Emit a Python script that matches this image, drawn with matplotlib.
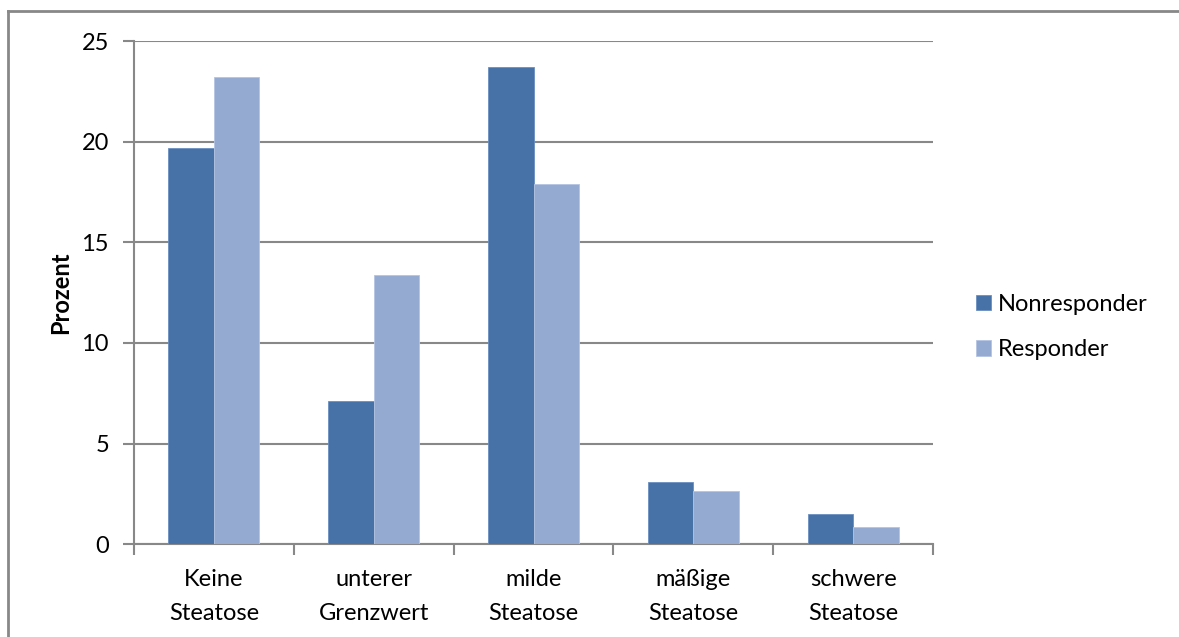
import matplotlib.pyplot as plt
import matplotlib.lines as mlines
import numpy as np

categories = ["Keine\nSteatose", "unterer\nGrenzwert", "milde\nSteatose",
              "mäßige\nSteatose", "schwere\nSteatose"]
nonresponder = [19.7, 7.1, 23.7, 3.1, 1.5]
responder = [23.2, 13.4, 17.9, 2.65, 0.85]
yticks = [0, 5, 10, 15, 20, 25]

dark = "#4672A8"
light = "#95AAD1"
grid_col = "#888888"
fs = 17

plt.rcParams['font.family'] = ['Lato', 'DejaVu Sans']

fig = plt.figure(figsize=(11.79, 6.37), dpi=100)
ax = fig.add_axes([134 / 1179, 1 - 544.3 / 637, (933 - 134) / 1179, (544.3 - 41) / 637])

x = np.arange(len(categories))
w = 0.285
ax.bar(x - w / 2, nonresponder, w, color=dark, edgecolor="#6b8fc0", linewidth=0.6,
       label="Nonresponder", zorder=3)
ax.bar(x + w / 2, responder, w, color=light, edgecolor="#b4c5e3", linewidth=0.6,
       label="Responder", zorder=3)

ax.set_xlim(-0.5, len(categories) - 0.5)
ax.set_ylim(0, 25)
ax.set_yticks(yticks)
ax.set_yticklabels([str(t) for t in yticks], fontsize=fs)
ax.yaxis.grid(True, color=grid_col, linewidth=1.5, zorder=0)

# category ticks sit between the groups
ax.set_xticks(np.arange(len(categories) + 1) - 0.5)
ax.set_xticklabels([])
ax.set_xticks(x, minor=True)
ax.set_xticklabels(categories, minor=True, fontsize=fs, linespacing=1.75)
ax.tick_params(axis='x', which='minor', length=0, pad=18)
ax.tick_params(axis='x', which='major', length=8, width=1.5, color=grid_col)
ax.tick_params(axis='y', length=8, width=1.5, color=grid_col, pad=10)

for side in ["top", "right"]:
    ax.spines[side].set_visible(False)
for side in ["left", "bottom"]:
    ax.spines[side].set_color(grid_col)
    ax.spines[side].set_linewidth(1.5)

ax.set_ylabel("Prozent", fontsize=fs, fontweight="bold", labelpad=7)

fig.legend(loc="center left", bbox_to_anchor=(976 / 1179, 1 - 327 / 637),
           frameon=False, fontsize=fs, handlelength=0.64, handleheight=0.64,
           handletextpad=0.3, labelspacing=1.03, borderpad=0, borderaxespad=0)

# chart border (top and left edges)
fig.add_artist(mlines.Line2D([8 / 1179, 1], [1 - 11 / 637, 1 - 11 / 637],
                             transform=fig.transFigure, color=grid_col, linewidth=2))
fig.add_artist(mlines.Line2D([8 / 1179, 8 / 1179], [0, 1 - 11 / 637],
                             transform=fig.transFigure, color=grid_col, linewidth=2))

fig.savefig("out.png", dpi=100)
